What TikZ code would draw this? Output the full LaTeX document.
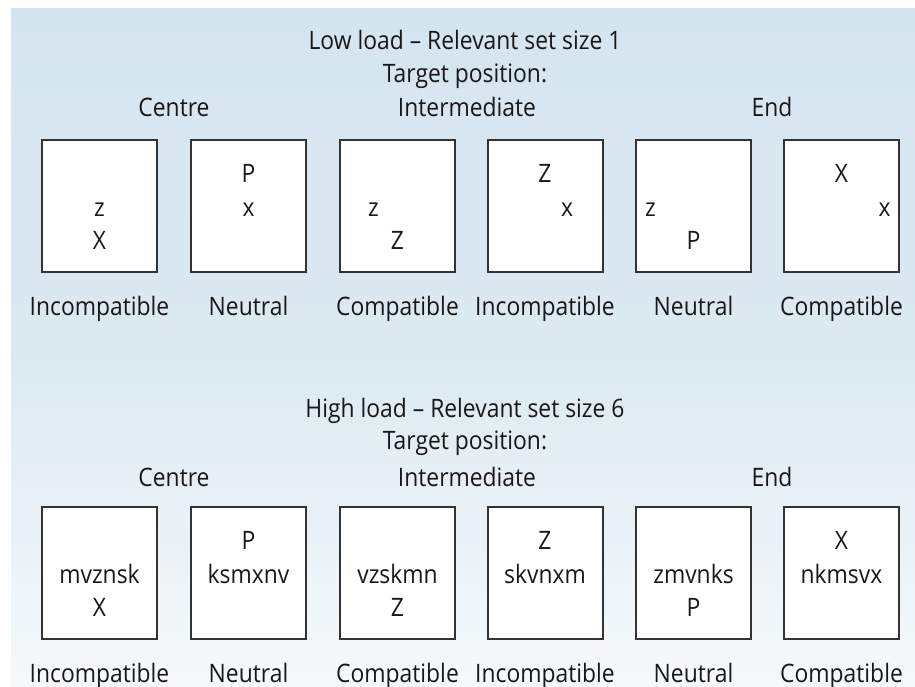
\documentclass[tikz,border=0pt]{standalone}
\usepackage{fontspec}
\setmainfont[FakeStretch=0.9]{Open Sans}
\usetikzlibrary{positioning}

\definecolor{panelblue}{HTML}{D5E5EF}
\definecolor{panelpale}{HTML}{F6F9FB}
\definecolor{boxline}{HTML}{333333}
\definecolor{ink}{HTML}{1A1718}

\tikzset{
  trial/.style={draw=boxline, line width=1pt, fill=white,
    minimum width=57.5pt, minimum height=66pt, inner sep=0pt},
  txt/.style={font=\fontsize{12.7}{14}\selectfont, text=ink,
    inner sep=0pt, anchor=base},
}

% letter inside a display: name, box, x offset, slot height, text
\newcommand\stim[5]{\node[txt] (#1) at ([shift={(#3,#4)}]#2.center) {#5};}

\begin{document}
\begin{tikzpicture}[x=0.5pt,y=0.5pt]
\useasboundingbox (0,0) rectangle (915,686);
\shade[top color=panelblue, bottom color=panelpale, middle color=panelblue!80!panelpale]
  (11,0) rectangle (915,677);

% headings
\node[txt] (lohead) at (465,636) {Low load -- Relevant set size 1};
\node[txt] (lotarget) at (465,603) {Target position:};
\node[txt] (locentre) at (174,569) {Centre};
\node[txt] (lointer) at (467,569) {Intermediate};
\node[txt] (loend) at (772,569) {End};

\node[txt] (hihead) at (465,269) {High load -- Relevant set size 6};
\node[txt] (hitarget) at (465,236) {Target position:};
\node[txt] (hicentre) at (174,200) {Centre};
\node[txt] (hiinter) at (467,200) {Intermediate};
\node[txt] (hiend) at (772,200) {End};

% displays and condition labels
\foreach \i/\x/\cond in {1/99.5/Incompatible, 2/248.5/Neutral, 3/397.5/Compatible,
    4/545/Incompatible, 5/693.5/Neutral, 6/841.5/Compatible} {
  \node[trial] (lo\i) at (\x,480) {};
  \node[txt] (locond\i) at ([shift={(0,-110)}]lo\i.center) {\cond};
  \node[trial] (hi\i) at (\x,113.5) {};
  \node[txt] (hicond\i) at ([shift={(0,-110)}]hi\i.center) {\cond};
}

% low load: target plus one distractor
\stim{lo1a}{lo1}{0}{-11}{z}      \stim{lo1b}{lo1}{0}{-44}{X}
\stim{lo2a}{lo2}{0}{23}{P}       \stim{lo2b}{lo2}{0}{-11}{x}
\stim{lo3a}{lo3}{-24}{-11}{z}    \stim{lo3b}{lo3}{0}{-44}{Z}
\stim{lo4a}{lo4}{0}{23}{Z}       \stim{lo4b}{lo4}{22}{-11}{x}
\stim{lo5a}{lo5}{-43}{-11}{z}    \stim{lo5b}{lo5}{0}{-44}{P}
\stim{lo6a}{lo6}{0}{23}{X}       \stim{lo6b}{lo6}{43}{-11}{x}

% high load: target plus six letter string
\stim{hi1a}{hi1}{0}{-11}{mvznsk} \stim{hi1b}{hi1}{0}{-44}{X}
\stim{hi2a}{hi2}{0}{23}{P}       \stim{hi2b}{hi2}{0}{-11}{ksmxnv}
\stim{hi3a}{hi3}{0}{-11}{vzskmn} \stim{hi3b}{hi3}{0}{-44}{Z}
\stim{hi4a}{hi4}{0}{23}{Z}       \stim{hi4b}{hi4}{0}{-11}{skvnxm}
\stim{hi5a}{hi5}{0}{-11}{zmvnks} \stim{hi5b}{hi5}{0}{-44}{P}
\stim{hi6a}{hi6}{0}{23}{X}       \stim{hi6b}{hi6}{0}{-11}{nkmsvx}
\end{tikzpicture}
\end{document}
